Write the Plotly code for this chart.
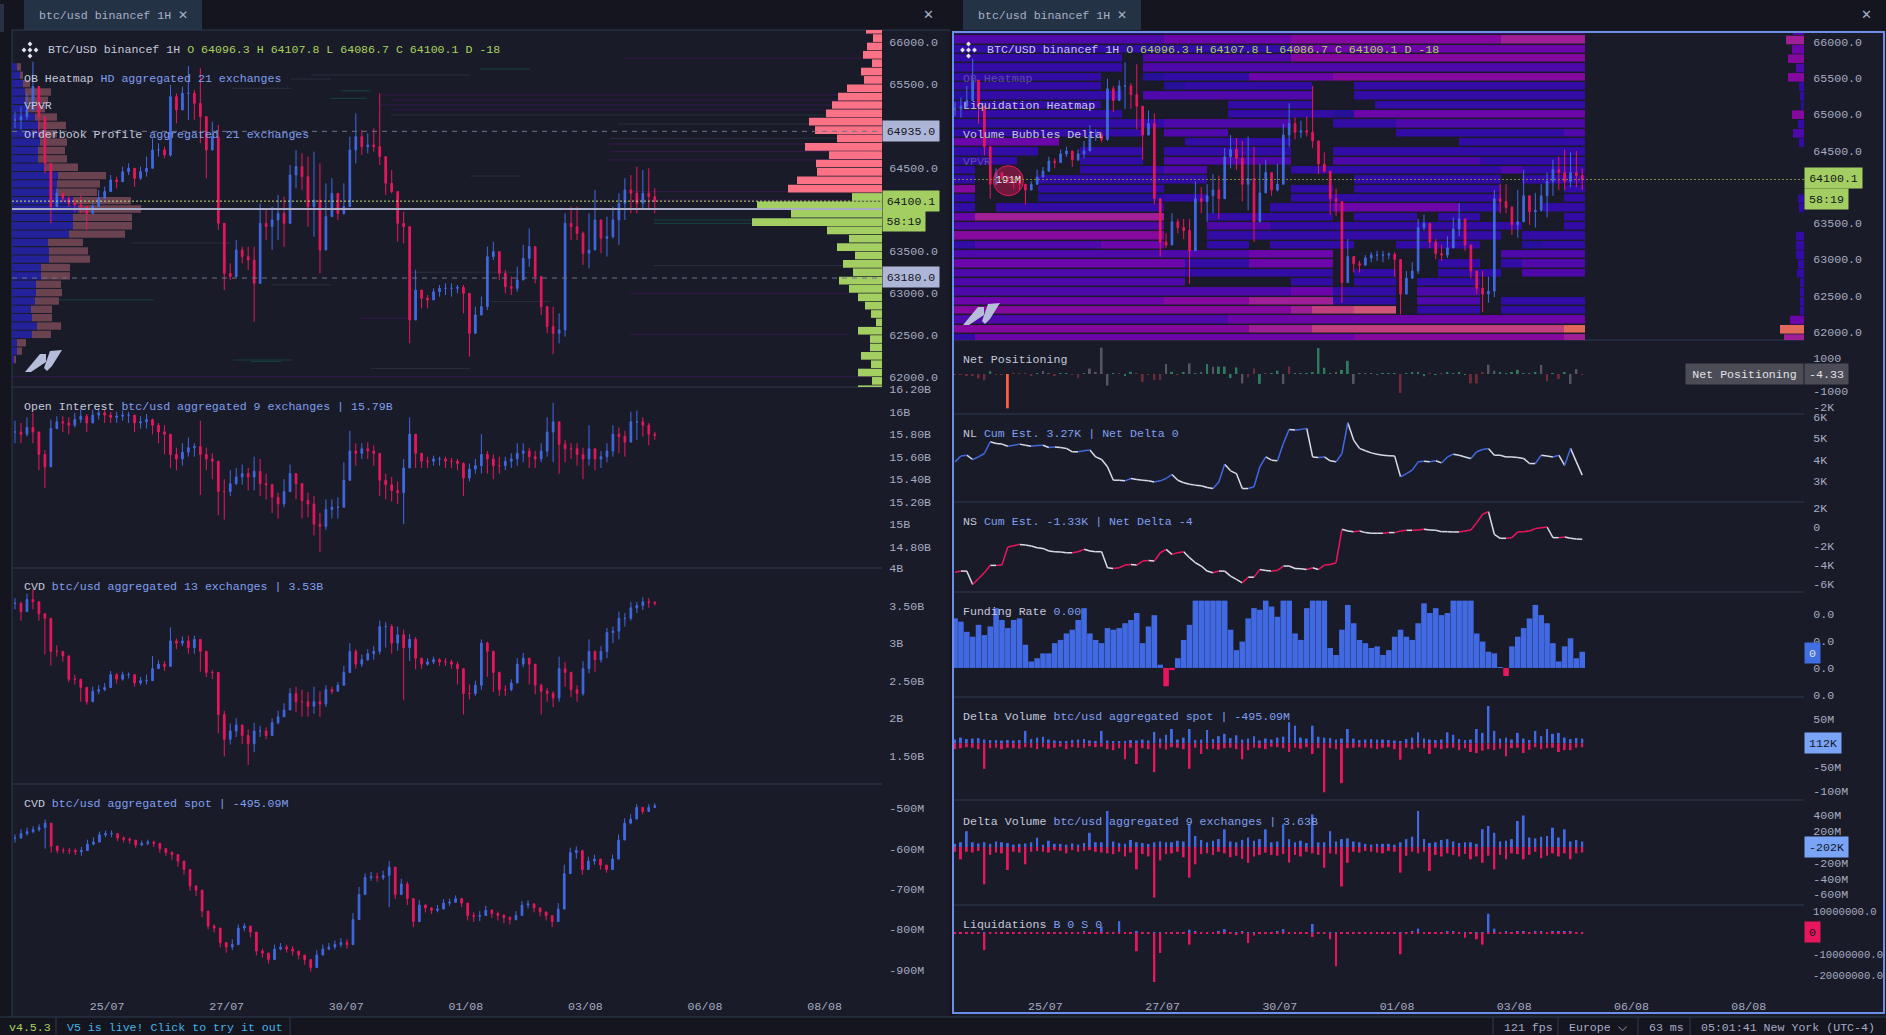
import numpy as np
import plotly.graph_objects as go

W, H = 1886, 1035
BLUE, RED = '#4169e1', '#e8175d'
GREEN_TAG = '#a3cf62'
FONT = 'Liberation Mono'

DATE_POS = [47.7, 107.7, 167.7, 227.7, 287.7, 347.7, 407.7]
DATE_TEXT = ['25/07', '27/07', '30/07', '01/08', '03/08', '06/08', '08/08']

LEFT_TICKS = [66000, 65500, 64500, 63500, 63000, 62500, 62000]
LEFT_LABELS = ['66000.0', '65500.0', '64500.0', '63500.0', '63000.0', '62500.0', '62000.0']
RIGHT_TICKS = [66000, 65500, 65000, 64500, 63500, 63000, 62500, 62000]
RIGHT_LABELS = ['66000.0', '65500.0', '65000.0', '64500.0', '63500.0', '63000.0', '62500.0', '62000.0']

PRICE_C = [65070,65110,65190,65470,65110,64552,64034,64194,64134,64074,64054,64034,63954,64034,64134,64214,64353,64333,64453,64493,64373,64453,64493,64712,64712,64652,65350,65190,65390,65390,65270,65110,64712,64871,63835,63237,63197,63516,63436,63396,63117,63835,63795,63875,63954,63835,64413,64513,64393,64034,64114,63516,63915,64194,63954,64034,64712,64871,64752,64772,64752,64632,64313,64214,63835,63795,62678,63037,62938,62918,63017,63057,63057,63057,63069,62997,62519,62738,62838,63436,63496,63237,63077,63057,63157,63416,63556,63197,62838,62599,62519,62559,63835,63795,63715,63476,63516,63875,63655,63675,63875,64074,64234,64194,64074,64194,64154,64100]
PRICE_H = [65170,65230,65390,65768,65350,65110,64353,64253,64194,64154,64134,64174,64034,64074,64234,64273,64413,64393,64513,64552,64473,64513,64632,64851,64792,64752,65489,65390,65469,65717,65429,65689,65051,65051,65011,63775,63356,63635,63556,63556,63556,64074,63994,64034,64174,64154,64532,64712,64672,64632,64692,64552,64313,64373,64194,64313,64871,65150,64951,64911,64971,65390,64413,64473,64154,63974,63277,63277,63037,62978,63057,63097,63117,63117,63097,63097,62838,62838,62958,63556,63616,63496,63277,63197,63316,63576,63775,63556,63157,62838,62838,62758,63954,64034,64034,63735,63954,64234,63795,63915,64034,64194,64373,64413,64513,64473,64493,64253]
PRICE_L = [64971,64951,65071,65270,64871,64433,63835,64034,64094,64034,63974,63954,63755,63954,64034,64154,64234,64253,64333,64413,64273,64353,64393,64532,64632,64612,64632,65031,65190,65071,65071,64792,64373,64712,63755,63037,63157,63316,63356,63276,62659,63476,63635,63516,63635,63556,64034,64253,64234,63795,63675,63237,63675,64114,63875,63934,64532,64552,64652,64672,64692,64532,64174,64194,63616,63596,62400,62758,62818,62818,62938,62958,62978,62958,62998,62758,62240,62638,62758,62798,63396,63157,62998,62978,63017,63296,63316,63117,62738,62519,62270,62400,62479,63635,63635,63336,63296,63735,63476,63436,63655,63576,63875,63954,63954,63994,63994,63954]

OI_TICKS = [16.2, 16, 15.8, 15.6, 15.4, 15.2, 15, 14.8]
OI_LABELS = ['16.20B', '16B', '15.80B', '15.60B', '15.40B', '15.20B', '15B', '14.80B']
OI_C = [15.82,15.80,15.86,15.82,15.62,15.51,15.85,15.91,15.90,15.88,15.93,15.96,15.90,15.97,15.99,15.97,15.95,15.96,15.97,15.97,15.90,15.91,15.93,15.88,15.82,15.80,15.62,15.58,15.64,15.68,15.69,15.62,15.58,15.56,15.29,15.29,15.36,15.42,15.45,15.42,15.47,15.36,15.35,15.24,15.18,15.29,15.45,15.36,15.21,15.18,15.00,14.98,15.13,15.15,15.15,15.39,15.65,15.63,15.67,15.65,15.63,15.39,15.35,15.30,15.28,15.50,15.80,15.63,15.56,15.56,15.58,15.58,15.56,15.56,15.54,15.41,15.49,15.52,15.62,15.58,15.52,15.52,15.56,15.58,15.63,15.65,15.60,15.58,15.65,15.82,15.91,15.71,15.67,15.67,15.62,15.58,15.67,15.58,15.60,15.65,15.80,15.78,15.73,15.91,15.91,15.88,15.80,15.79]
OI_H = [15.92,15.90,15.95,15.99,15.75,15.66,15.93,15.96,15.96,15.95,15.99,16.03,15.98,16.02,16.03,16.02,16.00,16.00,16.01,16.00,15.96,15.96,15.98,15.94,15.90,15.88,15.75,15.68,15.72,15.77,15.72,15.92,15.68,15.63,15.45,15.40,15.48,15.50,15.53,15.50,15.60,15.58,15.45,15.36,15.28,15.40,15.53,15.45,15.30,15.28,15.25,15.10,15.22,15.22,15.24,15.55,15.83,15.72,15.72,15.73,15.70,15.58,15.45,15.42,15.38,15.58,15.95,15.72,15.60,15.60,15.61,15.60,15.60,15.59,15.58,15.55,15.54,15.58,15.80,15.65,15.62,15.60,15.60,15.63,15.72,15.72,15.68,15.65,15.72,15.95,16.08,15.85,15.75,15.72,15.72,15.68,15.88,15.65,15.65,15.72,15.88,15.86,15.83,16.00,16.01,15.95,15.90,15.82]
OI_L = [15.72,15.72,15.78,15.72,15.48,15.32,15.70,15.86,15.82,15.80,15.86,15.90,15.82,15.90,15.93,15.90,15.90,15.90,15.92,15.90,15.82,15.85,15.85,15.80,15.72,15.62,15.50,15.48,15.52,15.60,15.60,15.26,15.48,15.40,15.08,15.04,15.25,15.35,15.35,15.30,15.30,15.25,15.22,15.10,15.05,15.15,15.30,15.22,15.05,15.06,14.90,14.75,14.95,15.05,15.05,15.20,15.40,15.52,15.58,15.58,15.52,15.25,15.22,15.20,15.18,15.00,15.50,15.50,15.50,15.50,15.52,15.52,15.50,15.50,15.48,15.25,15.38,15.45,15.45,15.45,15.40,15.45,15.48,15.50,15.52,15.55,15.50,15.50,15.55,15.60,15.55,15.45,15.55,15.58,15.52,15.40,15.52,15.48,15.50,15.55,15.60,15.63,15.60,15.75,15.75,15.78,15.70,15.75]

CVD_TICKS = [4, 3.5, 3, 2.5, 2, 1.5]
CVD_LABELS = ['4B', '3.50B', '3B', '2.50B', '2B', '1.50B']
CVD_C = [3.53,3.42,3.58,3.55,3.39,3.33,2.89,2.89,2.83,2.52,2.52,2.41,2.22,2.36,2.38,2.41,2.58,2.52,2.58,2.58,2.47,2.50,2.50,2.66,2.72,2.69,3.03,3.00,3.03,2.94,3.05,2.89,2.61,2.61,2.05,1.72,1.83,1.91,1.77,1.66,1.83,1.83,1.77,1.94,2.02,2.11,2.33,2.22,2.22,2.16,2.22,2.19,2.38,2.36,2.44,2.61,2.89,2.72,2.78,2.86,2.89,3.22,3.22,3.00,3.11,2.94,3.05,2.80,2.72,2.75,2.78,2.75,2.75,2.72,2.66,2.33,2.33,2.44,3.00,2.89,2.61,2.38,2.38,2.47,2.72,2.80,2.72,2.44,2.36,2.33,2.27,2.66,2.61,2.38,2.33,2.66,2.89,2.78,2.89,3.14,3.16,3.33,3.33,3.47,3.50,3.55,3.54,3.53]
CVD_H = [3.60,3.55,3.66,3.72,3.50,3.40,3.00,2.97,2.88,2.83,2.58,2.50,2.42,2.42,2.44,2.47,2.63,2.60,2.62,2.61,2.58,2.55,2.58,2.83,2.77,2.76,3.21,3.06,3.09,3.10,3.10,3.05,2.90,2.64,2.60,2.10,1.93,2.00,1.90,1.85,1.94,1.90,1.88,2.00,2.10,2.20,2.40,2.42,2.38,2.35,2.42,2.36,2.44,2.42,2.48,2.70,3.00,2.92,2.85,2.92,2.96,3.30,3.28,3.25,3.22,3.18,3.12,3.08,2.80,2.80,2.82,2.80,2.80,2.78,2.75,2.66,2.45,2.50,3.05,3.02,2.90,2.62,2.44,2.52,2.80,2.87,2.78,2.70,2.46,2.40,2.36,2.82,2.75,2.62,2.44,2.76,3.05,2.90,2.96,3.20,3.22,3.42,3.40,3.55,3.55,3.61,3.60,3.56]
CVD_L = [3.45,3.30,3.45,3.45,3.30,2.85,2.70,2.82,2.75,2.48,2.45,2.22,2.18,2.26,2.32,2.36,2.45,2.46,2.50,2.53,2.42,2.44,2.45,2.50,2.68,2.63,2.72,2.92,2.96,2.86,2.86,2.62,2.55,2.52,1.80,1.49,1.65,1.75,1.66,1.38,1.55,1.75,1.72,1.78,1.92,2.02,2.15,2.08,2.02,2.02,2.06,2.02,2.15,2.32,2.36,2.45,2.60,2.66,2.68,2.76,2.78,2.85,2.94,2.86,2.90,2.24,2.76,2.65,2.66,2.70,2.72,2.70,2.70,2.66,2.45,2.05,2.25,2.30,2.38,2.55,2.35,2.30,2.30,2.36,2.55,2.68,2.45,2.32,2.05,2.22,2.15,2.22,2.42,2.28,2.22,2.30,2.60,2.62,2.74,2.80,3.00,3.05,3.22,3.30,3.40,3.44,3.47,3.50]

SPOT_TICKS = [-500, -600, -700, -800, -900]
SPOT_LABELS = ['-500M', '-600M', '-700M', '-800M', '-900M']
SPOT_C = [-574,-563,-558,-553,-548,-537,-594,-605,-605,-605,-608,-605,-589,-584,-566,-563,-563,-574,-577,-579,-591,-587,-584,-587,-600,-610,-615,-631,-652,-693,-703,-755,-792,-797,-833,-844,-838,-797,-792,-807,-854,-859,-875,-849,-844,-849,-854,-864,-875,-895,-864,-849,-844,-838,-833,-838,-776,-714,-672,-670,-672,-667,-646,-714,-688,-724,-781,-740,-747,-753,-750,-735,-733,-724,-735,-766,-768,-766,-753,-761,-766,-771,-776,-766,-740,-737,-747,-757,-766,-781,-750,-662,-610,-605,-652,-631,-626,-641,-652,-626,-579,-537,-527,-498,-508,-498,-494]
SPOT_H = [-565,-552,-548,-545,-540,-528,-575,-595,-598,-598,-600,-596,-578,-572,-558,-556,-555,-566,-570,-572,-582,-580,-578,-580,-586,-602,-606,-620,-642,-682,-690,-745,-782,-788,-822,-832,-825,-788,-785,-795,-838,-848,-862,-838,-834,-838,-842,-855,-865,-882,-852,-838,-834,-828,-822,-825,-760,-695,-662,-658,-660,-655,-631,-690,-675,-682,-760,-728,-738,-745,-740,-725,-724,-716,-724,-752,-758,-755,-742,-750,-756,-762,-768,-755,-730,-728,-738,-748,-758,-768,-735,-640,-598,-595,-635,-620,-615,-632,-642,-615,-565,-525,-515,-490,-500,-490,-488]
SPOT_L = [-585,-575,-568,-562,-558,-600,-610,-612,-612,-614,-616,-618,-600,-592,-575,-572,-572,-582,-585,-588,-598,-594,-592,-596,-610,-618,-628,-645,-665,-705,-718,-770,-800,-808,-845,-858,-852,-810,-805,-820,-865,-870,-885,-860,-852,-858,-865,-875,-888,-905,-878,-860,-852,-850,-845,-848,-790,-728,-685,-680,-682,-678,-745,-725,-700,-740,-795,-752,-758,-762,-758,-745,-742,-735,-745,-778,-782,-780,-766,-772,-778,-785,-788,-778,-752,-748,-758,-768,-778,-795,-768,-680,-622,-625,-665,-642,-640,-652,-660,-640,-590,-550,-540,-510,-515,-508,-500]

OB_PRICE = [66150,66050,65950,65850,65750,65650,65550,65450,65350,65250,65150,65050,64950,64850,64750,64650,64550,64450,64350,64250,64150,64050,63950,63850,63750,63650,63550,63450,63350,63250,63150,63050,62950,62850,62750,62650,62550,62450,62350,62250,62150,62050,61950,61850]
OB_SIZE = [16,9,15,19,10,21,18,35,44,50,56,73,67,45,77,53,66,65,85,94,30,125,91,130,55,33,45,27,39,29,43,33,24,17,11,6,24,12,12,21,11,24,10,24]
OB_SIDE = 'aaaaaaaaaaaaaaaaaaaabbbbbbbbbbbbbbbbbbbbbbbb'

VP_PRICE = [65706,65606,65506,65406,65306,65206,65106,65006,64906,64806,64706,64606,64506,64406,64306,64206,64106,64006,63906,63806,63706,63606,63506,63406,63306,63206,63106,63006,62906,62806,62706,62606,62506,62406,62306,62206]
VP_BUY = [5,8,11,13,13,16,23,26,28,28,26,26,33,46,45,45,61,66,61,61,57,36,37,37,29,29,24,24,23,19,20,25,20,5,5,2]
VP_SELL = [4,3,7,26,23,17,22,28,17,27,27,29,33,48,43,40,58,63,59,59,56,35,39,41,29,29,25,26,24,21,20,24,19,9,5,2]

# price, first hour, last hour, colour key
STREAKS = [(65809,306,432,'p'),(65370,185,432,'p'),(65310,190,432,'p'),(65250,185,432,'p'),(65190,190,430,'p'),(65130,190,420,'g'),(65023,304,432,'g'),(64852,300,432,'g'),(64784,298,432,'p'),(64692,300,432,'p'),(64593,298,432,'p'),(64214,310,432,'p'),(64114,310,432,'p'),(63875,322,371,'t'),(63835,322,371,'t'),(63329,322,417,'g'),(62998,310,420,'p'),(62507,310,420,'p'),(62001,0,432,'p'),(62920,12,71,'t'),(65609,150,230,'g'),(62200,111,140,'t'),(62180,120,135,'t'),(65450,110,140,'g'),(65420,165,180,'t'),(65330,160,178,'t'),(64000,60,90,'g'),(63600,60,110,'g'),(63250,200,260,'g'),(62900,240,270,'g'),(62100,180,230,'g'),(62700,175,200,'p'),(65680,235,260,'t'),(65560,140,160,'g'),(63100,130,160,'g'),(64400,230,255,'g')]

HEAT_TOP, HEAT_STEP = 66152, 128.7
HEAT_ROWS = [
 '222222222233333333333333344444','333333333344444455555555556666','222222222222222244444444444444',
 '222222220333333355555555555555','222222220333333333333333333333','222222200122224444555555555555',
 '222222200012222220022222222222','122222220333333330022222222222','222222200000022220002222222222',
 '222222220000022222144444444444','222222222233333300222333333333','222222222033300000000222222223',
 '444440000002222200000000222222','222200222022222200222222222222','222000222033333300333333322222',
 '200000222233000022222222223222','200022222222000000022222220222','500022222200000022022222220002',
 '200011111122000022222222220002','202222222200000222444444220022','466666666600222222022202200002',
 '333333333300333222222222222002','555555555500222222222222220222','233333344400220222200222200122',
 '333333333333334444000000003333','444444444442224444000002202333','333333333332222222022002220333',
 '333333333330000022022022200000','333333333333333344222033300000','444444444455556666222033302222',
 '555555555555555567788022202222','333333333333344444444444444444','555555555555556667777777777779',
 '244444444444444444455555555556']
HEAT_SIDE = [11,18,12,16,8,16,5,4,3,12,6,11,5,0,0,0,0,0,6,5,0,0,8,8,8,6,7,4,4,4,4,14,24,20]
HEAT_SIDE_LEVEL = [3,6,4,5,3,5,2,2,1,5,2,3,2,0,0,0,0,0,2,2,0,0,2,2,2,2,2,2,2,2,2,4,9,6]
HEAT_COLORS = ['#1a1b28','#26109a','#330ca6','#4f08aa','#6c06aa','#85099f','#a01f97','#c2407f','#cf5579','#e2685c']

NET_TICKS = [1000, -1000, -2000]
NET_LABELS = ['1000', '-1000', '-2K']
NET_VALUES = [-30,-60,-90,-120,-260,-380,170,-30,-60,-2080,40,60,60,-70,50,180,60,-90,50,40,-60,-230,60,330,100,1600,-700,50,60,-110,130,50,-480,-40,-360,-360,600,130,-30,90,650,50,130,600,440,450,450,-250,400,-570,-200,350,-600,40,60,200,-600,450,40,20,30,100,1575,380,40,80,250,800,-600,60,30,40,-40,50,30,60,-1150,50,80,130,-140,40,-60,40,90,60,70,-40,-570,-570,120,560,200,70,60,100,250,60,40,80,550,-440,60,-300,100,-600,300,-60]
NET_KIND = 'rrrrrrgrrorrrrgnnrggrrgnnnngrggrrrrrngrgngngnggggnrrgrggnrgngggggnggngngngggrggggrgrggggrrrnngggggngnrgrgnnr'

NL_TICKS = [6, 5, 4, 3, 2]
NL_LABELS = ['6K', '5K', '4K', '3K', '2K']
NL_VALUES = [3.89,4.16,4.20,4.00,4.12,4.28,4.83,4.75,4.72,4.62,4.67,4.72,4.67,4.62,4.66,4.67,4.56,4.59,4.56,4.52,4.36,4.36,4.41,4.44,4.12,4.00,3.66,3.03,3.03,3.00,3.11,3.06,3.03,3.00,2.95,3.00,3.11,3.30,3.03,2.91,2.84,2.80,2.77,2.69,2.64,2.95,3.78,3.47,3.34,2.64,2.64,2.72,3.66,4.12,3.97,3.94,4.75,5.41,5.38,5.41,5.45,4.12,4.09,4.12,3.94,3.89,4.28,5.72,4.91,4.52,4.41,4.31,4.25,4.20,4.17,4.16,3.19,3.34,3.50,3.89,3.92,3.89,3.94,3.84,4.12,4.25,4.20,4.12,4.05,4.36,4.47,4.52,4.20,4.20,4.12,4.12,4.09,4.05,3.81,3.81,4.20,4.16,4.12,4.20,3.73,4.52,3.89,3.27]

NS_TICKS = [2, 0, -2, -4, -6]
NS_LABELS = ['2K', '0', '-2K', '-4K', '-6K']
NS_VALUES = [-4.79,-4.68,-4.68,-6.09,-5.46,-4.86,-4.08,-4.08,-4.05,-2.15,-2.01,-1.87,-1.94,-2.04,-2.22,-2.29,-2.57,-2.64,-2.68,-2.75,-2.75,-2.64,-2.39,-2.57,-2.64,-2.64,-4.33,-4.40,-4.33,-4.05,-3.98,-4.05,-3.63,-3.56,-3.63,-2.75,-2.39,-2.92,-2.75,-2.64,-3.27,-3.80,-4.15,-4.68,-4.86,-4.68,-4.68,-5.21,-5.56,-5.92,-5.32,-5.32,-4.51,-4.61,-4.68,-4.61,-4.15,-4.15,-4.40,-4.44,-4.51,-4.33,-4.51,-4.05,-3.98,-3.80,-.28,-.46,-.53,-.46,-.63,-.70,-.70,-.70,-.63,-.63,-.46,-.39,-.39,-.35,-.28,-.35,-.39,-.53,-.53,-.56,-.56,-.46,-.35,.42,1.30,1.58,-.81,-1.23,-1.23,-1.16,-.56,-.53,-.46,-.21,-.11,-.04,-1.16,-1.16,-1.09,-1.23,-1.30,-1.34]

FUND_TICKS = [0.01, 0.005, 0, -0.005]
FUND_LABELS = ['0.0', '0.0', '0.0', '0.0']
FUND_VALUES = [.0092,.0086,.0067,.0058,.0080,.0061,.0077,.0111,.0089,.0074,.0089,.0092,.0043,.0012,.0018,.0027,.0027,.0046,.0052,.0064,.0071,.0089,.0111,.0064,.0052,.0046,.0074,.0071,.0074,.0083,.0089,.0102,.0046,.0077,.0098,.0006,-.0034,-.0004,.0018,.0052,.0080,.0125,.0125,.0125,.0125,.0125,.0125,.0071,.0033,.0049,.0092,.0111,.0108,.0125,.0114,.0095,.0125,.0125,.0064,.0052,.0111,.0125,.0125,.0125,.0037,.0024,.0071,.0117,.0083,.0052,.0046,.0037,.0040,.0024,.0033,.0058,.0071,.0058,.0052,.0083,.0120,.0102,.0111,.0098,.0102,.0125,.0125,.0125,.0125,.0064,.0049,.0030,.0027,.0001,-.0015,.0040,.0058,.0074,.0092,.0117,.0098,.0083,.0046,.0012,.0040,.0055,.0018,.0030]

DS_TICKS = [50, -50, -100]
DS_LABELS = ['50M', '-50M', '-100M']
DS_UP = [8,12,9,10,11,8,7,7,6,7,6,7,26,9,12,14,8,6,5,5,7,8,9,6,5,26,6,5,5,5,7,6,8,6,24,10,18,30,8,12,30,7,8,28,9,15,20,11,17,8,10,15,6,10,8,12,14,44,37,12,10,37,14,12,11,8,10,30,10,7,8,9,8,8,7,6,5,9,12,23,10,8,7,8,23,18,9,7,8,30,22,78,26,10,12,8,22,10,7,26,15,30,20,22,12,9,11,10]
DS_DOWN = [12,10,8,9,12,53,10,9,12,9,10,11,8,9,12,8,11,9,7,12,8,9,9,6,8,7,12,14,10,33,9,43,10,12,60,10,13,8,9,12,53,9,22,12,11,13,10,9,12,33,14,9,10,12,7,8,10,18,9,11,8,22,10,102,10,12,83,10,9,8,9,10,12,9,8,12,34,9,12,9,10,22,9,12,10,9,14,10,18,20,15,12,14,11,27,10,9,20,13,8,12,10,9,18,14,14,9,8]

DV_TICKS = [400, 200, -200, -400, -600]
DV_LABELS = ['400M', '200M', '-200M', '-400M', '-600M']
DV_UP = [40,60,200,60,45,60,40,70,60,50,30,40,45,60,118,30,80,40,40,30,45,30,50,180,60,60,456,70,50,40,90,60,50,40,60,70,60,60,80,70,287,140,90,60,80,100,224,70,60,90,120,80,100,224,60,70,287,100,60,80,50,413,60,60,200,70,100,110,70,60,40,30,40,40,40,30,60,100,130,456,100,50,60,90,100,70,50,60,60,40,225,266,180,70,80,100,329,400,120,110,130,140,245,120,224,70,90,70]
DV_DOWN = [60,156,60,70,50,472,100,70,80,291,60,70,219,60,50,60,70,40,50,80,40,60,50,40,60,70,80,90,60,120,70,283,90,120,641,170,90,80,60,130,388,219,90,80,100,60,80,130,110,150,200,120,100,70,100,110,90,198,100,120,60,80,100,262,80,90,500,200,60,70,50,60,70,80,50,60,325,110,60,80,60,304,100,120,80,100,120,90,156,120,200,110,283,100,156,80,90,156,100,60,140,110,80,120,80,156,80,70]

LIQ_TICKS = [10, 0, -10, -20]
LIQ_LABELS = ['10000000.0', '0', '-10000000.0', '-20000000.0']
LIQ_UP = [.1,.2,.2,.1,.1,.1,.1,.1,.1,.1,.1,.1,.1,.1,.1,.1,.1,.1,.1,.1,.2,.3,.5,.2,.1,3,.3,.1,5.5,.2,.2,.8,.3,.2,.1,.1,.2,.3,.1,.2,1.5,.5,.2,.2,.3,.5,1.8,.4,.3,.5,.3,.2,.3,.2,.3,.8,1.8,.2,.3,.2,.3,4.2,.3,.2,.1,.2,.2,.2,.1,.1,.1,.1,.1,.1,.2,.2,.1,.3,.5,2,.3,.2,.3,.3,.5,.8,.3,.2,.2,.3,.4,9,2,.4,.5,.3,.5,.6,.4,.5,.6,.4,.8,.6,.5,.7,.4,.3]
LIQ_DOWN = [.2,.2,.3,.3,.5,8,.5,.3,.2,.2,.2,.2,.2,.2,.2,.2,.2,.2,.2,.1,.1,.1,.2,.2,.1,.1,.3,.3,.2,.3,.3,8.6,.3,.3,23,9.4,.4,.2,.2,.5,5.5,.2,.2,.2,.5,.3,.4,.3,1,.5,4.7,1.2,.2,.2,.2,.1,.2,.2,.1,.2,.2,1.9,.3,.5,3,15.6,.3,.2,.2,.1,.1,.1,.1,.1,.1,.3,10,.2,.1,.1,.2,.1,.2,.2,.2,.2,.3,2.3,.3,3,5.5,.3,.2,.2,.2,.1,.2,.1,.1,.2,.1,.2,.1,.2,.1,.1,.1,.1]


def hours(n):
    return np.linspace(1.5, 322.5, n)


def X(p):
    return p / W


def Y(p):
    return 1 - p / H


fig = go.Figure()
LX, RX = (12, 882), (954, 1804)
LR, RR = [0, 436.5], [0.95, 436]


def candles(c, hi, lo, xa, ya):
    n = min(len(c), len(hi), len(lo))
    c, hi, lo = c[:n], hi[:n], lo[:n]
    op = [c[0]] + c[:-1]
    fig.add_trace(go.Candlestick(
        x=hours(n), open=op, high=hi, low=lo, close=c, xaxis=xa, yaxis=ya,
        increasing=dict(line=dict(color=BLUE, width=1), fillcolor=BLUE),
        decreasing=dict(line=dict(color=RED, width=1), fillcolor=RED),
        whiskerwidth=0, hoverinfo='skip', showlegend=False))


def updown(up, down, width, xa, ya):
    n = min(len(up), len(down))
    xs = hours(n)
    fig.add_trace(go.Bar(x=xs, y=up[:n], width=width, marker=dict(color=BLUE, line=dict(width=0)),
                         xaxis=xa, yaxis=ya, hoverinfo='skip', showlegend=False))
    fig.add_trace(go.Bar(x=xs, y=[-v for v in down[:n]], width=width, marker=dict(color=RED, line=dict(width=0)),
                         xaxis=xa, yaxis=ya, hoverinfo='skip', showlegend=False))


def two_colour_line(vals, rise, fall, xa, ya):
    xs = hours(len(vals))
    for col, test in ((fall, lambda a, b: b <= a), (rise, lambda a, b: b > a)):
        px, py = [], []
        for i in range(1, len(vals)):
            if test(vals[i - 1], vals[i]):
                px += [xs[i - 1], xs[i], None]
                py += [vals[i - 1], vals[i], None]
        fig.add_trace(go.Scatter(x=px, y=py, mode='lines', line=dict(color=col, width=1.5), xaxis=xa, yaxis=ya,
                                 hoverinfo='skip', showlegend=False))


# left price pane: order-book streaks, VPVR, order book profile, candles
STREAK_COL = {'p': '#35194f', 'g': '#28303f', 't': '#14443f'}
for key, col in STREAK_COL.items():
    sx, sy = [], []
    for pr, h0, h1, k in STREAKS:
        if k == key:
            sx += [h0, h1, None]
            sy += [pr, pr, None]
    fig.add_trace(go.Scatter(x=sx, y=sy, mode='lines', line=dict(color=col, width=1), xaxis='x', yaxis='y',
                             hoverinfo='skip', showlegend=False))
fig.add_trace(go.Bar(y=VP_PRICE, x=VP_BUY, orientation='h', width=88, marker=dict(color='#23229a', line=dict(width=0)),
                     xaxis='x2', yaxis='y', hoverinfo='skip', showlegend=False))
fig.add_trace(go.Bar(y=VP_PRICE, x=VP_SELL, base=VP_BUY, orientation='h', width=88, marker=dict(color='#6a4250', line=dict(width=0)),
                     xaxis='x2', yaxis='y', hoverinfo='skip', showlegend=False))
fig.add_trace(go.Bar(y=OB_PRICE, x=OB_SIZE, orientation='h', width=92,
                     marker=dict(color=['#fb7185' if s == 'a' else GREEN_TAG for s in OB_SIDE], line=dict(width=0)),
                     xaxis='x3', yaxis='y', hoverinfo='skip', showlegend=False))
candles(PRICE_C, PRICE_H, PRICE_L, 'x4', 'y')
candles(OI_C, OI_H, OI_L, 'x5', 'y2')
candles(CVD_C, CVD_H, CVD_L, 'x6', 'y3')
candles(SPOT_C, SPOT_H, SPOT_L, 'x7', 'y4')

# right price pane
levels = [[int(ch) for ch in row] for row in HEAT_ROWS]
scale = []
for i, c in enumerate(HEAT_COLORS):
    scale += [[i / 10, c], [(i + 1) / 10, c]]
fig.add_trace(go.Heatmap(z=levels, x0=6.33, dx=10.77, y0=HEAT_TOP, dy=-HEAT_STEP, zmin=-0.5, zmax=9.5, colorscale=scale,
                         showscale=False, ygap=1.5, xaxis='x8', yaxis='y5', hoverinfo='skip'))
side_y = [HEAT_TOP - HEAT_STEP * i for i in range(len(HEAT_SIDE))]
fig.add_trace(go.Bar(y=side_y, x=HEAT_SIDE, orientation='h', width=118,
                     marker=dict(color=[HEAT_COLORS[k] for k in HEAT_SIDE_LEVEL], line=dict(width=0)),
                     xaxis='x9', yaxis='y5', hoverinfo='skip', showlegend=False))
candles(PRICE_C, PRICE_H, PRICE_L, 'x8', 'y5')
fig.add_trace(go.Scatter(x=[28.8], y=[64083], mode='markers+text', text=['191M'], textposition='middle center',
                         textfont=dict(family=FONT, size=10.5, color='#e6e7f0'),
                         marker=dict(size=30, color='rgba(232,23,93,0.42)', line=dict(color='#e8175d', width=1)),
                         xaxis='x8', yaxis='y5', hoverinfo='skip', showlegend=False))

# right sub-panes
NET_COL = {'r': '#6d2c38', 'g': '#2e7a5e', 'n': '#55565f', 'o': '#ff5c40'}
fig.add_trace(go.Bar(x=hours(len(NET_VALUES)), y=NET_VALUES, width=1.0,
                     marker=dict(color=[NET_COL[NET_KIND[i] if i < len(NET_KIND) else 'n'] for i in range(len(NET_VALUES))], line=dict(width=0)),
                     xaxis='x10', yaxis='y6', hoverinfo='skip', showlegend=False))
two_colour_line(NL_VALUES, BLUE, '#d9dbe6', 'x11', 'y7')
two_colour_line(NS_VALUES, RED, '#d9dbe6', 'x12', 'y8')
fig.add_trace(go.Bar(x=hours(len(FUND_VALUES)), y=FUND_VALUES, width=2.85,
                     marker=dict(color=[BLUE if v >= 0 else RED for v in FUND_VALUES], line=dict(width=0)),
                     xaxis='x13', yaxis='y9', hoverinfo='skip', showlegend=False))
updown(DS_UP, DS_DOWN, 1.0, 'x14', 'y10')
updown(DV_UP, DV_DOWN, 1.0, 'x15', 'y11')
updown(LIQ_UP, LIQ_DOWN, 1.0, 'x16', 'y12')

axis_font = dict(family=FONT, size=11.6, color='#a6abc3')
layout = dict(width=W, height=H, margin=dict(l=0, r=0, t=0, b=0, pad=0, autoexpand=False), autosize=False, barmode='overlay', boxgap=0.6,
              paper_bgcolor='#1a1b28', plot_bgcolor='rgba(0,0,0,0)', showlegend=False,
              font=dict(family=FONT, size=11.6, color='#a6abc3'), hovermode=False)


def xaxis(dom, rng, anchor, ticks=False):
    d = dict(domain=[X(dom[0]), X(dom[1])], range=rng, anchor=anchor, showgrid=False, zeroline=False,
             showline=False, rangeslider=dict(visible=False), fixedrange=True)
    if ticks:
        d.update(tickmode='array', tickvals=DATE_POS, ticktext=DATE_TEXT, tickfont=axis_font, ticks='outside',
                 ticklen=6, tickcolor='rgba(0,0,0,0)', side='bottom')
    else:
        d.update(showticklabels=False, ticks='')
    return d


def yaxis(top, bot, rng, vals, text, anchor, standoff=4):
    return dict(domain=[Y(bot), Y(top)], range=rng, anchor=anchor, side='right', showgrid=False, zeroline=False,
                showline=False, tickmode='array', tickvals=vals, ticktext=text, tickfont=axis_font, ticks='outside',
                ticklen=standoff, tickcolor='rgba(0,0,0,0)', fixedrange=True)


layout['xaxis'] = xaxis(LX, LR, 'y')
layout['xaxis2'] = xaxis(LX, [0, 870], 'y')
layout['xaxis3'] = xaxis(LX, [870, 0], 'y')
layout['xaxis4'] = xaxis(LX, LR, 'y')
layout['xaxis5'] = xaxis(LX, LR, 'y2')
layout['xaxis6'] = xaxis(LX, LR, 'y3')
layout['xaxis7'] = xaxis(LX, LR, 'y4', True)
layout['xaxis8'] = xaxis(RX, RR, 'y5')
layout['xaxis9'] = xaxis(RX, [850, 0], 'y5')
layout['xaxis10'] = xaxis(RX, RR, 'y6')
layout['xaxis11'] = xaxis(RX, RR, 'y7')
layout['xaxis12'] = xaxis(RX, RR, 'y8')
layout['xaxis13'] = xaxis(RX, RR, 'y9')
layout['xaxis14'] = xaxis(RX, RR, 'y10')
layout['xaxis15'] = xaxis(RX, RR, 'y11')
layout['xaxis16'] = xaxis(RX, RR, 'y12', True)

layout['yaxis'] = yaxis(30, 387, [61877, 66147], LEFT_TICKS, LEFT_LABELS, 'x4')
layout['yaxis2'] = yaxis(387, 568, [14.61, 16.22], OI_TICKS, OI_LABELS, 'x5')
layout['yaxis3'] = yaxis(568, 784, [1.125, 4.0], CVD_TICKS, CVD_LABELS, 'x6')
layout['yaxis4'] = yaxis(784, 989, [-948, -440], SPOT_TICKS, SPOT_LABELS, 'x7')
layout['yaxis5'] = yaxis(32, 340, [61886, 66134], RIGHT_TICKS, RIGHT_LABELS, 'x8', 6)
layout['yaxis6'] = yaxis(340, 414, [-2424, 2060], NET_TICKS, NET_LABELS, 'x10', 6)
layout['yaxis7'] = yaxis(414, 502, [2.01, 6.13], NL_TICKS, NL_LABELS, 'x11', 6)
layout['yaxis8'] = yaxis(502, 592, [-6.88, 2.59], NS_TICKS, NS_LABELS, 'x12', 6)
layout['yaxis9'] = yaxis(592, 697, [-0.0054, 0.0141], FUND_TICKS, FUND_LABELS, 'x13', 6)
layout['yaxis10'] = yaxis(697, 800, [-118, 96.7], DS_TICKS, DS_LABELS, 'x14', 6)
layout['yaxis11'] = yaxis(800, 905, [-734, 595], DV_TICKS, DV_LABELS, 'x15', 6)
layout['yaxis12'] = yaxis(905, 989, [-26.3, 13.1], LIQ_TICKS, LIQ_LABELS, 'x16', 6)
layout['yaxis12']['tickfont'] = dict(family=FONT, size=10.6, color='#a6abc3')

SEP = '#2d3a50'
shapes = []


def rect(x0, y0, x1, y1, fill, layer='below', line=None):
    shapes.append(dict(type='rect', xref='paper', yref='paper', x0=X(x0), x1=X(x1), y0=Y(y0), y1=Y(y1), fillcolor=fill,
                       line=dict(width=0 if line is None else 1, color=line or fill), layer=layer))


def hline(x0, x1, y, col=SEP, width=1, layer='below'):
    shapes.append(dict(type='line', xref='paper', yref='paper', x0=X(x0), x1=X(x1), y0=Y(y), y1=Y(y),
                       line=dict(color=col, width=width), layer=layer))


def vline(x, y0, y1, col=SEP, width=1, layer='below'):
    shapes.append(dict(type='line', xref='paper', yref='paper', x0=X(x), x1=X(x), y0=Y(y0), y1=Y(y1),
                       line=dict(color=col, width=width), layer=layer))


def poly(points, fill):
    path = 'M ' + ' L '.join(f'{X(a):.5f},{Y(b):.5f}' for a, b in points) + ' Z'
    shapes.append(dict(type='path', xref='paper', yref='paper', path=path, fillcolor=fill, line=dict(width=0), layer='above'))


DARK = '#14151f'
rect(0, 0, W, 30, DARK)
rect(0, 1017, W, H, DARK)
rect(0, 0, 12, H, DARK)
rect(950, 0, 954, H, DARK)
rect(0, 4, 4, 32, '#2a3145')
rect(24, 0, 202, 30, '#243246')
rect(963, 0, 1141, 30, '#243246')
hline(12, 950, 30)
hline(0, W, 1017)
vline(12, 30, 1017)
for yy in (387, 568, 784):
    hline(12, 882, yy)
for yy in (340, 414, 502, 592, 697, 800, 905):
    hline(954, 1804, yy)
for xx in (56, 290, 1493, 1558, 1638, 1690):
    vline(xx, 1017, H)
rect(953, 32, 1884, 1013, 'rgba(0,0,0,0)', 'above', '#6b8fe6')
shapes[-1]['line']['width'] = 2

# price levels
for lv in (64935, 63180):
    shapes.append(dict(type='line', xref='paper', yref='y', x0=X(12), x1=X(882), y0=lv, y1=lv,
                       line=dict(color='#70748a', width=1, dash='5px,5px'), layer='above'))
shapes.append(dict(type='line', xref='paper', yref='y', x0=X(12), x1=X(882), y0=64006, y1=64006,
                   line=dict(color='#a7abc6', width=2), layer='above'))
shapes.append(dict(type='line', xref='paper', yref='y', x0=X(12), x1=X(882), y0=64100.1, y1=64100.1,
                   line=dict(color='#c8e07a', width=1, dash='2px,2px'), layer='above'))
shapes.append(dict(type='line', xref='paper', yref='y5', x0=X(954), x1=X(1804), y0=64100.1, y1=64100.1,
                   line=dict(color='#7d8a4a', width=1, dash='2px,2px'), layer='above'))

# exchange mark and watermark
for ox in (30, 968.5):
    for dx, dy in ((0, -6), (0, 6), (-6, 0), (6, 0), (0, 0)):
        s = 2.4
        poly([(ox + dx, 50 + dy - s), (ox + dx + s, 50 + dy), (ox + dx, 50 + dy + s), (ox + dx - s, 50 + dy)], '#e3e5ef')
for ox, oy in ((0, 0), (938, -47)):
    poly([(25 + ox, 372 + oy), (40 + ox, 354 + oy), (46 + ox, 354 + oy), (46 + ox, 362 + oy), (31 + ox, 372 + oy)], '#b6bddb')
    poly([(44 + ox, 368 + oy), (50 + ox, 351 + oy), (62 + ox, 350 + oy), (52 + ox, 366 + oy), (47 + ox, 371 + oy)], '#b6bddb')
layout['shapes'] = shapes

WHITE = '#c4c8dc'
SOFT = '#7f9ff0'
LIME = '#a9d35f'
ann = []


def label(x, y, text, color=WHITE, size=11.6):
    ann.append(dict(xref='paper', yref='paper', x=X(x), y=Y(y), text=text, showarrow=False, xanchor='left', yanchor='middle',
                    align='left', font=dict(family=FONT, size=size, color=color)))


def tag(x0, x1, y, text, bg, fg='#14151f', h=17):
    ann.append(dict(xref='paper', yref='paper', x=X(x0), y=Y(y), text=text, showarrow=False, xanchor='left', yanchor='middle',
                    width=x1 - x0, height=h, align='center', valign='middle', bgcolor=bg, borderpad=0,
                    font=dict(family=FONT, size=11.6, color=fg)))


def both(a, b):
    return f'{a} <span style="color:{SOFT}">{b}</span>'


OHLC = 'O 64096.3 H 64107.8 L 64086.7 C 64100.1 D -18'
HEAD = f'BTC/USD binancef 1H <span style="color:{LIME}">{OHLC}</span>'
label(46, 50, HEAD)
label(22, 78, both('OB Heatmap', 'HD aggregated 21 exchanges'))
label(22, 106, 'VPVR')
label(22, 134, both('Orderbook Profile', 'aggregated 21 exchanges'))
label(22, 406, both('Open Interest', 'btc/usd aggregated 9 exchanges | 15.79B'))
label(22, 586, both('CVD', 'btc/usd aggregated 13 exchanges | 3.53B'))
label(22, 803, both('CVD', 'btc/usd aggregated spot | -495.09M'))
label(985, 50, HEAD)
label(961, 78, 'OB Heatmap', '#5d4ba8')
label(961, 106, 'Liquidation Heatmap')
label(961, 134, 'Volume Bubbles Delta')
label(961, 161, 'VPVR', '#5d4ba8')
label(961, 359, 'Net Positioning')
label(961, 433, both('NL', 'Cum Est. 3.27K | Net Delta 0'))
label(961, 521, both('NS', 'Cum Est. -1.33K | Net Delta -4'))
label(961, 611, both('Funding Rate', '0.00'))
label(961, 716, both('Delta Volume', 'btc/usd aggregated spot | -495.09M'))
label(961, 821, both('Delta Volume', 'btc/usd aggregated 9 exchanges | 3.63B'))
label(961, 924, both('Liquidations', 'B 0 S 0'))

label(37, 15.5, 'btc/usd binancef 1H ✕', '#a8b0c8')
label(976, 15.5, 'btc/usd binancef 1H ✕', '#a8b0c8')
label(921, 15.5, '✕', '#a8b0c8', 13)
label(1859, 15.5, '✕', '#a8b0c8', 13)

label(7, 1027, 'v4.5.3', '#a9d35f')
label(65, 1027, 'V5 is live! Click to try it out', '#45b4e6')
label(1502, 1027, '121 fps', '#a6abc3')
label(1567, 1027, 'Europe ⌵', '#a6abc3')
label(1647, 1027, '63 ms', '#a6abc3')
label(1699, 1027, '05:01:41 New York (UTC-4)', '#a6abc3')

tag(882, 938, 131, '64935.0', '#aeb6d8', h=20)
tag(882, 938, 277, '63180.0', '#aeb6d8', h=20)
tag(882, 938, 201, '64100.1', GREEN_TAG, h=20)
tag(882, 924, 221, '58:19', GREEN_TAG, h=20)
tag(1804, 1861, 178.5, '64100.1', GREEN_TAG, h=20)
tag(1804, 1847, 199, '58:19', GREEN_TAG, h=20)
tag(1685, 1802, 373.5, 'Net Positioning', '#4b4c55', '#e2e3ea', 20)
tag(1804, 1847, 373.5, '-4.33', '#4b4c55', '#e2e3ea', 20)
tag(1804, 1819, 653, '0', '#3f6fe0', '#e2e3ea', 20)
tag(1804, 1840, 743, '112K', '#7aa5f7', h=20)
tag(1804, 1847, 846.5, '-202K', '#7aa5f7', h=20)
tag(1804, 1819, 932, '0', RED, h=20)
layout['annotations'] = ann

fig.update_layout(**layout)
fig.write_html('out.html', config={'displayModeBar': False},
               post_script="document.body.style.margin='0';document.body.style.overflow='hidden';")
